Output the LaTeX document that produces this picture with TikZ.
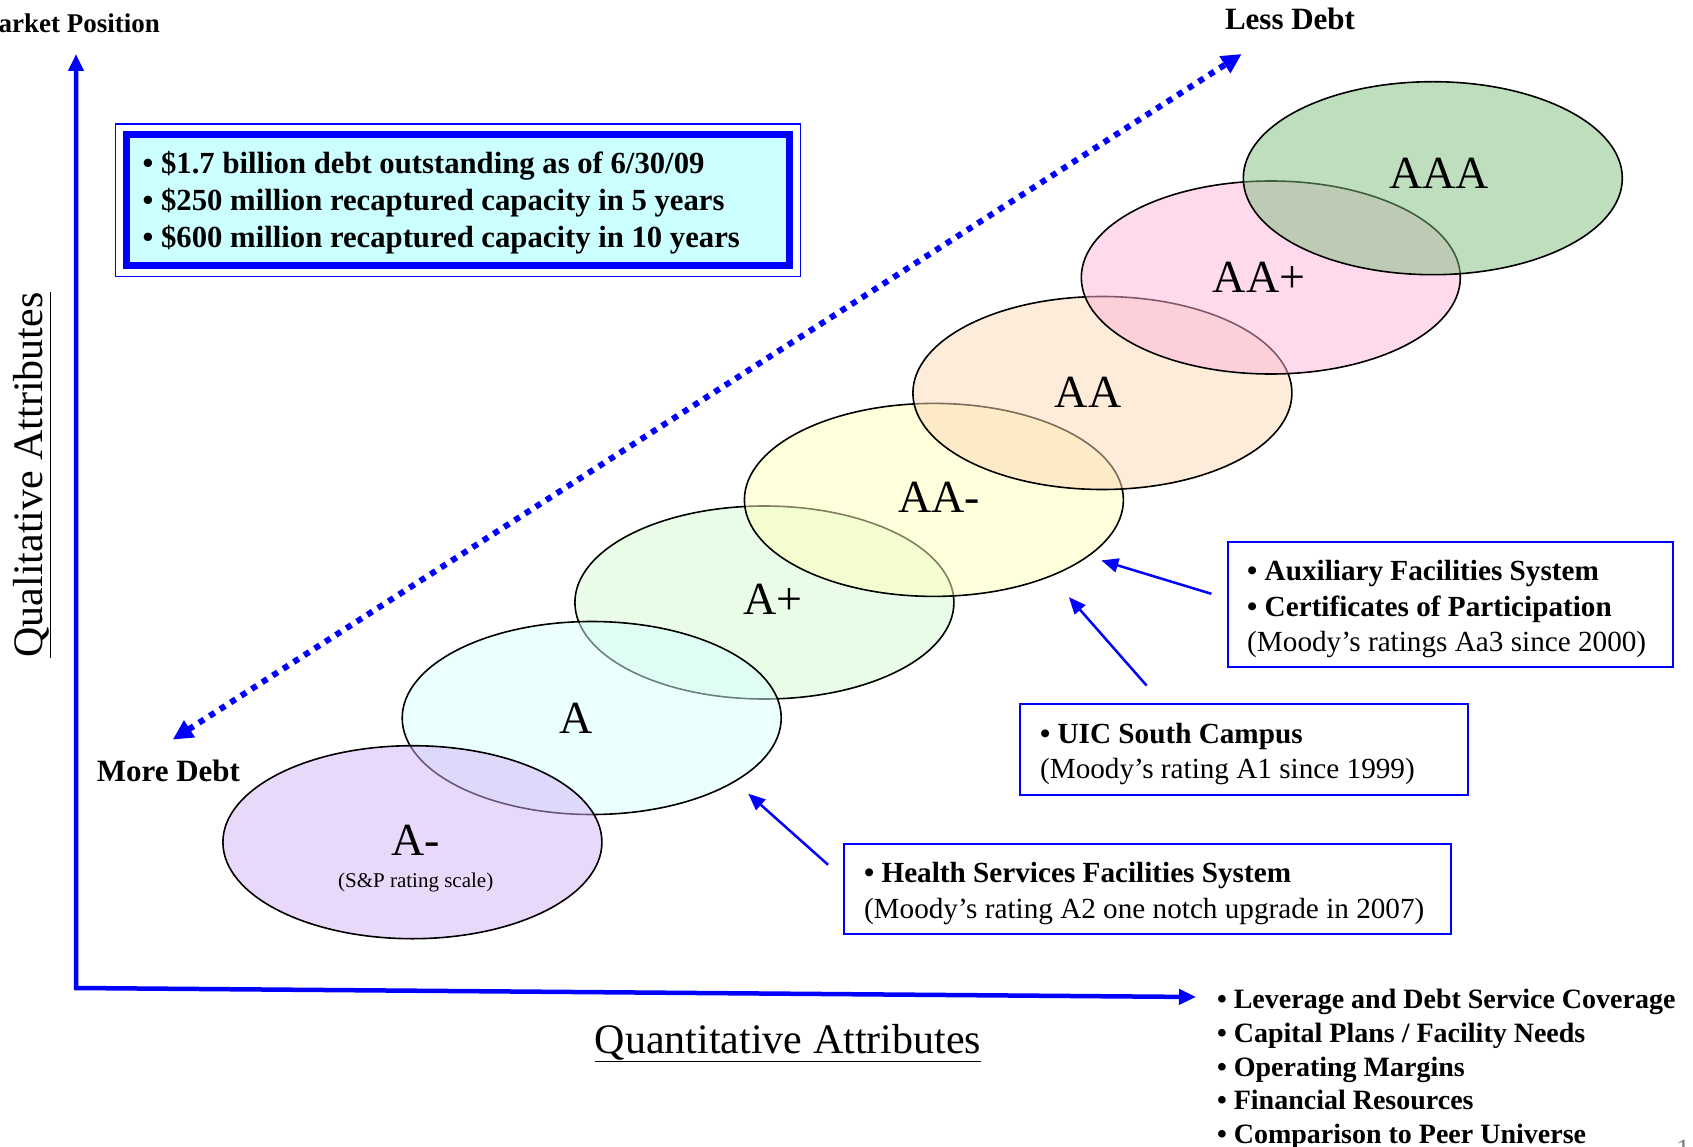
\documentclass[tikz,border=0pt]{standalone}
\usepackage{fontspec}
\setmainfont{Liberation Serif}
\usetikzlibrary{arrows.meta,shapes.geometric}
\definecolor{pblue}{RGB}{0,0,255}
\definecolor{boxcyan}{RGB}{204,255,255}
\definecolor{cAm}{RGB}{209,179,245}
\definecolor{cA}{RGB}{215,255,255}
\definecolor{cAp}{RGB}{209,249,209}
\definecolor{cAAm}{RGB}{255,255,185}
\definecolor{cAA}{RGB}{251,217,181}
\definecolor{cAAp}{RGB}{255,181,217}
\definecolor{cAAA}{RGB}{125,189,125}
\begin{document}
\begin{tikzpicture}[x=1pt,y=-1pt,
  rating/.style={ellipse, draw=black, line width=1.6pt, fill opacity=0.5, draw opacity=1,
    minimum width=379pt, minimum height=193pt, inner sep=0pt},
  rlabel/.style={font=\fontsize{46}{50}\selectfont, inner sep=0pt},
  infobox/.style={draw=pblue, line width=2pt, inner sep=0pt},
  infotext/.style={align=left, inner sep=0pt, anchor=west,
    font=\fontsize{29.2}{35.5}\selectfont},
  pointer/.style={pblue, line width=2.5pt, -{Triangle[length=17pt,width=14pt]}},
  axisline/.style={pblue, line width=4.5pt, line join=miter,
    {Triangle[length=17pt,width=15pt]}-{Triangle[length=17pt,width=15pt]}},
  dotarrow/.style={pblue, line width=6pt, dash pattern=on 6pt off 6.5pt,
    {Triangle[length=20pt,width=19pt]}-{Triangle[length=20pt,width=19pt]}},
  boldlabel/.style={font=\fontsize{31}{36}\selectfont\bfseries, inner sep=0pt},
  axtitle/.style={font=\fontsize{42}{48}\selectfont, inner sep=0pt}
]
\useasboundingbox (0,0) rectangle (1693,1147);

% axes
\coordinate (ytip) at (76,54);
\coordinate (origin) at (76,988);
\coordinate (xtip) at (1196,997);
\draw[axisline] (ytip) -- (origin) -- (xtip);

% dotted debt arrow
\coordinate (moretip) at (172.7,739.6);
\coordinate (lesstip) at (1241.7,54);
\draw[dotarrow] (moretip) -- (lesstip);

% rating ellipses
\node[rating, fill=cAp] (eap) at (764.4,602.5) {};
\node[rating, fill=cA] (ea) at (591.7,718.0) {};
\node[rating, fill=cAm] (eam) at (412.4,842.2) {};
\node[rating, fill=cAAm] (eaam) at (933.9,499.9) {};
\node[rating, fill=cAA] (eaa) at (1102.4,393.0) {};
\node[rating, fill=cAAp] (eaap) at (1270.8,277.5) {};
\node[rating, fill=cAAA] (eaaa) at (1432.8,178.2) {};

% rating labels
\node[rlabel] (lAAA) at (1439,173) {AAA};
\node[rlabel] (lAAp) at (1259,277) {AA+};
\node[rlabel] (lAA) at (1088,392) {AA};
\node[rlabel] (lAAm) at (939,497) {AA-};
\node[rlabel] (lAp) at (773,599) {A+};
\node[rlabel] (lA) at (576.5,718) {A};
\node[rlabel] (lAm) at (415.7,840) {A-};
\node[font=\fontsize{21}{24}\selectfont, inner sep=0pt] (sp) at (415.7,882) {(S\&P rating scale)};

% top info box
\node[draw=pblue, line width=7pt, fill=boxcyan, minimum width=663pt, minimum height=130.5pt,
  inner sep=0pt] (topbox) at (458,200.25) {};
\draw[pblue, line width=1.5pt] ([xshift=-7.5pt,yshift=7.5pt]topbox.north west)
  rectangle ([xshift=7.5pt,yshift=-7.5pt]topbox.south east);
\node[infotext, font=\fontsize{30.7}{37}\selectfont\bfseries] (toptext)
  at ([xshift=19.5pt,yshift=-2pt]topbox.west)
  {• \$1.7 billion debt outstanding as of 6/30/09\\
   • \$250 million recaptured capacity in 5 years\\
   • \$600 million recaptured capacity in 10 years};

% right info boxes
\node[infobox, minimum width=445pt, minimum height=125pt] (aux) at (1450,604.6) {};
\node[infotext] (auxtext) at ([xshift=20.5pt,yshift=-4.5pt]aux.west)
  {\textbf{• Auxiliary Facilities System}\\
   \textbf{• Certificates of Participation}\\
   (Moody’s ratings Aa3 since 2000)};
\node[infobox, minimum width=448pt, minimum height=90.7pt] (uic) at (1244.4,749.4) {};
\node[infotext, font=\fontsize{29.2}{34.7}\selectfont] (uictext) at ([xshift=20.5pt,yshift=-4.5pt]uic.west)
  {\textbf{• UIC South Campus}\\
   (Moody’s rating A1 since 1999)};
\node[infobox, minimum width=606.8pt, minimum height=89.7pt] (health) at (1147.7,889.2) {};
\node[infotext, font=\fontsize{29.2}{35.5}\selectfont] (healthtext) at ([xshift=20.5pt,yshift=-4.5pt]health.west)
  {\textbf{• Health Services Facilities System}\\
   (Moody’s rating A2 one notch upgrade in 2007)};

% pointers
\coordinate (auxs) at (1211.4,593.8);
\coordinate (auxt) at (1101.3,560.4);
\coordinate (uics) at (1146.6,685.6);
\coordinate (uict) at (1068.9,597.1);
\coordinate (hs) at (828.1,864.8);
\coordinate (ht) at (748.2,793.6);
\draw[pointer] (auxs) -- (auxt);
\draw[pointer] (uics) -- (uict);
\draw[pointer] (hs) -- (ht);

% texts
\node[font=\fontsize{27}{32}\selectfont\bfseries, inner sep=0pt, anchor=east] (mkt) at (160,23) {Market Position};
\node[boldlabel] (less) at (1290,19.4) {Less Debt};
\node[boldlabel] (more) at (168.4,771) {More Debt};
\node[axtitle] (quant) at (788,1043) {\underline{Quantitative Attributes}};
\node[axtitle, rotate=90] (qual) at (32,475) {\underline{Qualitative Attributes}};
\node[font=\fontsize{28}{33.75}\selectfont\bfseries, align=left, anchor=west, inner sep=0pt] (crit) at (1216.8,1069.5)
  {• Leverage and Debt Service Coverage\\
   • Capital Plans / Facility Needs\\
   • Operating Margins\\
   • Financial Resources\\
   • Comparison to Peer Universe};
\node[font=\fontsize{28}{32}\selectfont, text=gray, anchor=north west, inner sep=0pt] (pgnum) at (1676,1140) {1};
\end{tikzpicture}
\end{document}
